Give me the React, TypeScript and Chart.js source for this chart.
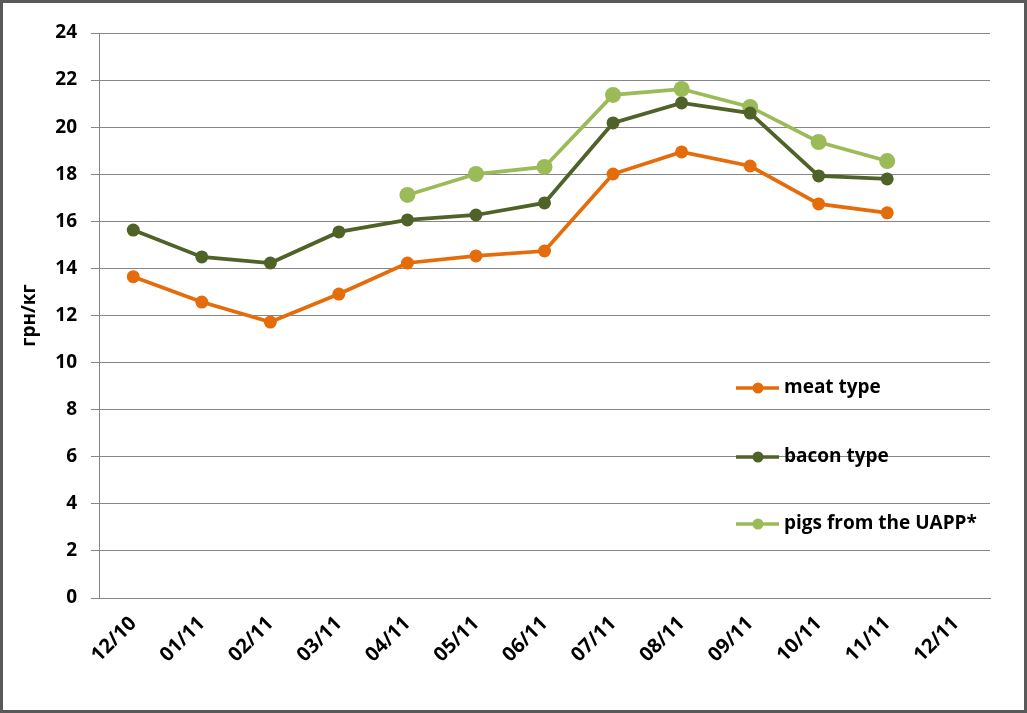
import React, { useEffect, useRef } from "react";
import { Chart, registerables } from "chart.js";

Chart.register(...registerables);

const categories = ["12/10", "01/11", "02/11", "03/11", "04/11", "05/11", "06/11", "07/11", "08/11", "09/11", "10/11", "11/11", "12/11"];
const meatType = [13.65, 12.57, 11.72, 12.91, 14.23, 14.53, 14.74, 18.01, 18.95, 18.35, 16.74, 16.36, null];
const baconType = [15.63, 14.49, 14.23, 15.55, 16.06, 16.27, 16.78, 20.18, 21.03, 20.6, 17.93, 17.8, null];
const uappPigs = [null, null, null, null, 17.12, 18.01, 18.31, 21.37, 21.62, 20.86, 19.37, 18.56, null];
const seriesNames = ["meat type", "bacon type", "pigs from the UAPP*"];
const seriesColors = ["#E46C0A", "#4F6228", "#9BBB59"];
const yTitle = "грн/кг";

const FONT = "'Open Sans', sans-serif";

const legendPlugin = {
  id: "insideLegend",
  afterDraw(chart: any) {
    const { ctx, chartArea } = chart;
    const x0 = chartArea.left + 637;
    const rows = [chartArea.top + 355, chartArea.top + 424, chartArea.top + 491];
    ctx.save();
    rows.forEach((y, i) => {
      ctx.strokeStyle = seriesColors[i];
      ctx.lineWidth = 3.5;
      ctx.beginPath();
      ctx.moveTo(x0, y);
      ctx.lineTo(x0 + 43, y);
      ctx.stroke();
      ctx.fillStyle = seriesColors[i];
      ctx.beginPath();
      ctx.arc(x0 + 22, y, 5.5, 0, Math.PI * 2);
      ctx.fill();
      ctx.fillStyle = "#000";
      ctx.font = `bold 19px ${FONT}`;
      ctx.textBaseline = "middle";
      ctx.textAlign = "left";
      ctx.fillText(seriesNames[i], x0 + 48, y);
    });
    ctx.restore();
  },
};

export default function App() {
  const ref = useRef<HTMLCanvasElement>(null);
  useEffect(() => {
    document.body.style.margin = "0";
    const data = [meatType, baconType, uappPigs];
    const radii = [6.5, 6.5, 8];
    const chart = new Chart(ref.current!, {
      type: "line",
      data: {
        labels: categories,
        datasets: data.map((d, i) => ({
          label: seriesNames[i],
          data: d,
          borderColor: seriesColors[i],
          backgroundColor: seriesColors[i],
          pointBackgroundColor: seriesColors[i],
          pointBorderColor: seriesColors[i],
          pointRadius: radii[i],
          pointBorderWidth: 0,
          borderWidth: 3.75,
          tension: 0,
          spanGaps: false,
        })),
      },
      options: {
        animation: false,
        responsive: false,
        layout: { padding: { top: 33, right: 37, left: 0, bottom: 0 } },
        plugins: { legend: { display: false }, tooltip: { enabled: false } },
        scales: {
          x: {
            offset: true,
            grid: { display: false, drawTicks: false },
            border: { display: true, color: "#868686", width: 1 },
            ticks: {
              minRotation: 45,
              maxRotation: 45,
              color: "#000",
              font: { family: FONT, size: 20, weight: "bold" },
              padding: 14,
              autoSkip: false,
            },
            afterFit(scale: any) {
              scale.height = 115;
            },
          },
          y: {
            min: 0,
            max: 24,
            ticks: {
              stepSize: 2,
              color: "#000",
              padding: 14,
              font: { family: FONT, size: 19, weight: "bold" },
            },
            grid: { color: "#868686", tickLength: 8, lineWidth: 1 },
            border: { display: true, color: "#868686", width: 1 },
            title: {
              display: true,
              text: yTitle,
              color: "#000",
              font: { family: FONT, size: 19, weight: "bold" },
              padding: { top: 18, bottom: 0 },
            },
            afterFit(scale: any) {
              scale.width = 99;
            },
          },
        },
      },
      plugins: [legendPlugin],
    });
    return () => chart.destroy();
  }, []);
  return (
    <div style={{ position: "relative", width: 1027, height: 713, background: "#fff" }}>
      <canvas ref={ref} width={1027} height={713} style={{ display: "block" }} />
      <div
        style={{
          position: "absolute",
          left: 0,
          top: 0,
          width: 1027,
          height: 713,
          boxSizing: "border-box",
          border: "3px solid #595959",
          pointerEvents: "none",
        }}
      />
    </div>
  );
}
